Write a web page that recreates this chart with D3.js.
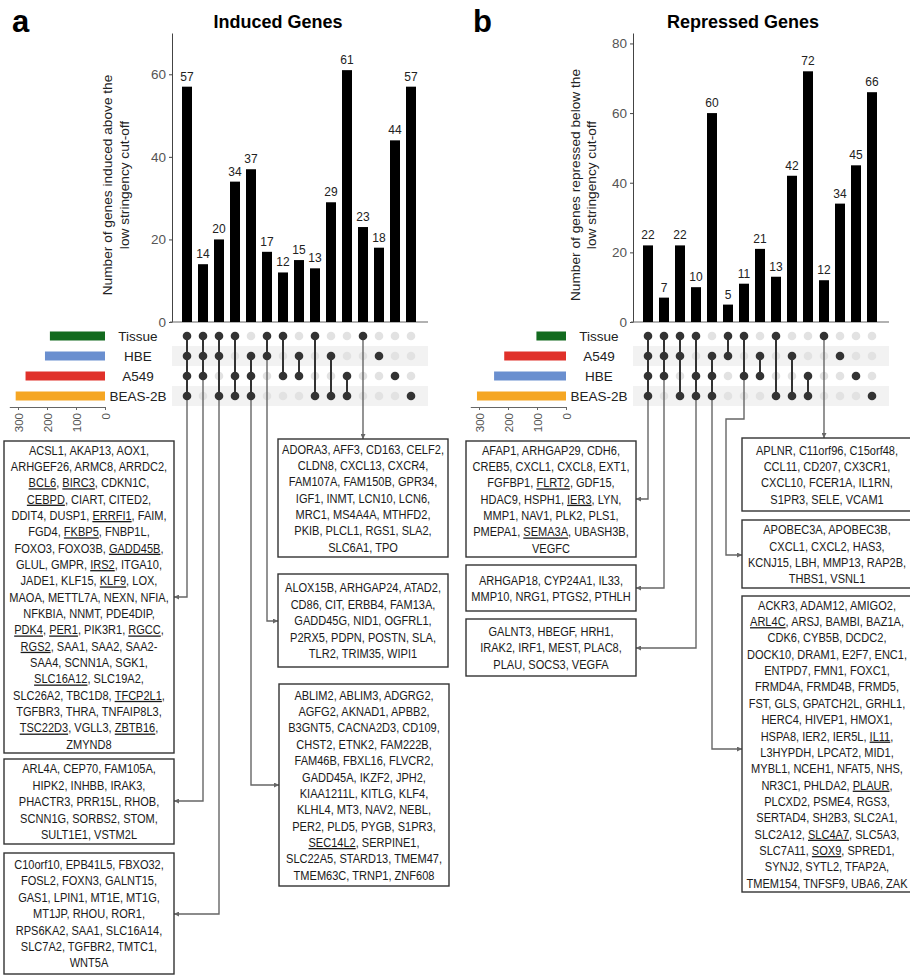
<!DOCTYPE html>
<html>
<head>
<meta charset="utf-8">
<script src="https://cdn.jsdelivr.net/npm/d3@7"></script>
<style>
  body { margin: 0; background: #fff; }
  text { font-family: "Liberation Sans", Arial, sans-serif; }
</style>
</head>
<body>
<svg id="chart"></svg>
<script>
// ---------- data ----------
const setsInduced = ["Tissue", "HBE", "A549", "BEAS-2B"];
const setsRepressed = ["Tissue", "A549", "HBE", "BEAS-2B"];

const combosInduced = [
  ["Tissue", "HBE", "A549", "BEAS-2B"],
  ["Tissue", "HBE", "A549"],
  ["Tissue", "HBE", "BEAS-2B"],
  ["Tissue", "A549", "BEAS-2B"],
  ["HBE", "A549", "BEAS-2B"],
  ["Tissue", "HBE"],
  ["Tissue", "A549"],
  ["HBE", "A549"],
  ["Tissue", "BEAS-2B"],
  ["HBE", "BEAS-2B"],
  ["A549", "BEAS-2B"],
  ["Tissue"], ["HBE"], ["A549"], ["BEAS-2B"]
];
const countsInduced = [57, 14, 20, 34, 37, 17, 12, 15, 13, 29, 61, 23, 18, 44, 57];

const combosRepressed = [
  ["Tissue", "A549", "HBE", "BEAS-2B"],
  ["Tissue", "A549", "HBE"],
  ["Tissue", "A549", "BEAS-2B"],
  ["Tissue", "HBE", "BEAS-2B"],
  ["A549", "HBE", "BEAS-2B"],
  ["Tissue", "A549"],
  ["Tissue", "HBE"],
  ["A549", "HBE"],
  ["Tissue", "BEAS-2B"],
  ["A549", "BEAS-2B"],
  ["HBE", "BEAS-2B"],
  ["Tissue"], ["A549"], ["HBE"], ["BEAS-2B"]
];
const countsRepressed = [22, 7, 22, 10, 60, 5, 11, 21, 13, 42, 72, 12, 34, 45, 66];

const yTicksInduced = [0, 20, 40, 60];
const yTicksRepressed = [0, 20, 40, 60, 80];
const sizeTicks = [0, 100, 200, 300];

// gene lists per intersection (*name* = underlined)
const genesInduced = [
  { combo: 0, lines: [
    "ACSL1, AKAP13, AOX1,", "ARHGEF26, ARMC8, ARRDC2,", "*BCL6*, *BIRC3*, CDKN1C,",
    "*CEBPD*, CIART, CITED2,", "DDIT4, DUSP1, *ERRFI1*, FAIM,", "FGD4, *FKBP5*, FNBP1L,",
    "FOXO3, FOXO3B, *GADD45B*,", "GLUL, GMPR, *IRS2*, ITGA10,", "JADE1, KLF15, *KLF9*, LOX,",
    "MAOA, METTL7A, NEXN, NFIA,", "NFKBIA, NNMT, PDE4DIP,", "*PDK4*, *PER1*, PIK3R1, *RGCC*,",
    "*RGS2*, SAA1, SAA2, SAA2-", "SAA4, SCNN1A, SGK1,", "*SLC16A12*, SLC19A2,",
    "SLC26A2, TBC1D8, *TFCP2L1*,", "TGFBR3, THRA, TNFAIP8L3,", "*TSC22D3*, VGLL3, *ZBTB16*,",
    "ZMYND8"] },
  { combo: 1, lines: [
    "ARL4A, CEP70, FAM105A,", "HIPK2, INHBB, IRAK3,", "PHACTR3, PRR15L, RHOB,",
    "SCNN1G, SORBS2, STOM,", "SULT1E1, VSTM2L"] },
  { combo: 2, lines: [
    "C10orf10, EPB41L5, FBXO32,", "FOSL2, FOXN3, GALNT15,", "GAS1, LPIN1, MT1E, MT1G,",
    "MT1JP, RHOU, ROR1,", "RPS6KA2, SAA1, SLC16A14,", "SLC7A2, TGFBR2, TMTC1,", "WNT5A"] },
  { combo: 11, lines: [
    "ADORA3, AFF3, CD163, CELF2,", "CLDN8, CXCL13, CXCR4,", "FAM107A, FAM150B, GPR34,",
    "IGF1, INMT, LCN10, LCN6,", "MRC1, MS4A4A, MTHFD2,", "PKIB, PLCL1, RGS1, SLA2,",
    "SLC6A1, TPO"] },
  { combo: 5, lines: [
    "ALOX15B, ARHGAP24, ATAD2,", "CD86, CIT, ERBB4, FAM13A,", "GADD45G, NID1, OGFRL1,",
    "P2RX5, PDPN, POSTN, SLA,", "TLR2, TRIM35, WIPI1"] },
  { combo: 4, lines: [
    "ABLIM2, ABLIM3, ADGRG2,", "AGFG2, AKNAD1, APBB2,", "B3GNT5, CACNA2D3, CD109,",
    "CHST2, ETNK2, FAM222B,", "FAM46B, FBXL16, FLVCR2,", "GADD45A, IKZF2, JPH2,",
    "KIAA1211L, KITLG, KLF4,", "KLHL4, MT3, NAV2, NEBL,", "PER2, PLD5, PYGB, S1PR3,",
    "*SEC14L2*, SERPINE1,", "SLC22A5, STARD13, TMEM47,", "TMEM63C, TRNP1, ZNF608"] }
];

const genesRepressed = [
  { combo: 0, lines: [
    "AFAP1, ARHGAP29, CDH6,", "CREB5, CXCL1, CXCL8, EXT1,", "FGFBP1, *FLRT2*, GDF15,",
    "HDAC9, HSPH1, *IER3*, LYN,", "MMP1, NAV1, PLK2, PLS1,", "PMEPA1, *SEMA3A*, UBASH3B,",
    "VEGFC"] },
  { combo: 1, lines: ["ARHGAP18, CYP24A1, IL33,", "MMP10, NRG1, PTGS2, PTHLH"] },
  { combo: 3, lines: ["GALNT3, HBEGF, HRH1,", "IRAK2, IRF1, MEST, PLAC8,", "PLAU, SOCS3, VEGFA"] },
  { combo: 11, lines: [
    "APLNR, C11orf96, C15orf48,", "CCL11, CD207, CX3CR1,", "CXCL10, FCER1A, IL1RN,",
    "S1PR3, SELE, VCAM1"] },
  { combo: 6, lines: [
    "APOBEC3A, APOBEC3B,", "CXCL1, CXCL2, HAS3,", "KCNJ15, LBH, MMP13, RAP2B,",
    "THBS1, VSNL1"] },
  { combo: 4, lines: [
    "ACKR3, ADAM12, AMIGO2,", "*ARL4C*, ARSJ, BAMBI, BAZ1A,", "CDK6, CYB5B, DCDC2,",
    "DOCK10, DRAM1, E2F7, ENC1,", "ENTPD7, FMN1, FOXC1,", "FRMD4A, FRMD4B, FRMD5,",
    "FST, GLS, GPATCH2L, GRHL1,", "HERC4, HIVEP1, HMOX1,", "HSPA8, IER2, IER5L, *IL11*,",
    "L3HYPDH, LPCAT2, MID1,", "MYBL1, NCEH1, NFAT5, NHS,", "NR3C1, PHLDA2, *PLAUR*,",
    "PLCXD2, PSME4, RGS3,", "SERTAD4, SH2B3, SLC2A1,", "SLC2A12, *SLC4A7*, SLC5A3,",
    "SLC7A11, *SOX9*, SPRED1,", "SYNJ2, SYTL2, TFAP2A,", "TMEM154, TNFSF9, UBA6, ZAK"] }
];

const setColors = { "Tissue": "#136b1f", "HBE": "#6a8fcf", "A549": "#e0312a", "BEAS-2B": "#f5a623" };

// ---------- layout (panel-local coordinates) ----------
// "c" = the x of the column the box belongs to
const boxLayoutInduced = [
  { x0: 4, x1: 174, y0: 441, y1: 753, route: [["c", 597], [174, 597]] },
  { x0: 4, x1: 174, y0: 759, y1: 844, route: [["c", 801], [174, 801]] },
  { x0: 4, x1: 174, y0: 853, y1: 974, route: [["c", 914], [174, 914]] },
  { x0: 278, x1: 448, y0: 439, y1: 557, route: [["c", 439]] },
  { x0: 278, x1: 448, y0: 574, y1: 667, route: [["c", 621], [278, 621]] },
  { x0: 279, x1: 449, y0: 684, y1: 886, route: [["c", 785], [279, 785]] }
];
const boxLayoutRepressed = [
  { x0: 5, x1: 175, y0: 441, y1: 557, route: [["c", 499], [175, 499]] },
  { x0: 5, x1: 175, y0: 565, y1: 611, route: [["c", 588], [175, 588]] },
  { x0: 5, x1: 175, y0: 619, y1: 676, route: [["c", 648], [175, 648]] },
  { x0: 281, x1: 451, y0: 438, y1: 511, route: [["c", 438]] },
  { x0: 281, x1: 451, y0: 520, y1: 588, route: [["c", 419], [265, 419], [265, 555], [281, 555]] },
  { x0: 281, x1: 451, y0: 596, y1: 892, route: [["c", 749], [281, 749]] }
];

const panels = [
  { letter: "a", title: "Induced Genes", dx: 0, sets: setsInduced, combos: combosInduced,
    counts: countsInduced, yMax: 70, yTicks: yTicksInduced,
    ylab: ["Number of genes induced above the", "low stringency cut-off"], ylabX: [107, 124],
    genes: genesInduced, boxes: boxLayoutInduced, titleX: 278 },
  { letter: "b", title: "Repressed Genes", dx: 461, sets: setsRepressed, combos: combosRepressed,
    counts: countsRepressed, yMax: 83, yTicks: yTicksRepressed,
    ylab: ["Number of genes repressed below the", "low stringency cut-off"], ylabX: [114, 130],
    genes: genesRepressed, boxes: boxLayoutRepressed, titleX: 282 }
];

const width = 910, height = 976;
const svg = d3.select("#chart").attr("width", width).attr("height", height);

svg.append("defs").append("marker")
  .attr("id", "arrow")
  .attr("viewBox", "0 0 6 6")
  .attr("refX", 6).attr("refY", 3)
  .attr("markerWidth", 5).attr("markerHeight", 5)
  .attr("markerUnits", "userSpaceOnUse")
  .attr("orient", "auto")
  .append("path").attr("d", "M0,0L6,3L0,6Z").attr("fill", "#666");

const dark = "#333", light = "#e2e2e2";

panels.forEach(function(p) {
  const g = svg.append("g").attr("transform", "translate(" + p.dx + ",0)");

  const x = d3.scaleBand().domain(d3.range(p.counts.length)).range([179, 419]);
  const cx = function(i) { return x(i) + x.bandwidth() / 2; };
  const y = d3.scaleLinear().domain([0, p.yMax]).range([322, 33]);
  const row = d3.scalePoint().domain(p.sets).range([336, 396]);
  const sizeScale = d3.scaleLinear().domain([0, 330]).range([105, 9.3]);

  // panel letter and title
  g.append("text").attr("x", 12).attr("y", 32)
    .attr("font-size", 31).attr("font-weight", "bold").text(p.letter);
  g.append("text").attr("x", p.titleX).attr("y", 28).attr("text-anchor", "middle")
    .attr("font-size", 18).attr("font-weight", "bold").text(p.title);

  // y axis
  const yAxis = g.append("g").attr("transform", "translate(172,0)")
    .call(d3.axisLeft(y).tickValues(p.yTicks).tickSize(3).tickSizeOuter(0));
  yAxis.select(".domain").attr("stroke", "#444");
  yAxis.selectAll(".tick line").attr("stroke", "#444");
  yAxis.selectAll("text").attr("font-size", 13.5).attr("fill", "#555")
    .style("font-family", "Liberation Sans, Arial, sans-serif");

  g.append("line").attr("x1", 170).attr("x2", 428).attr("y1", 322).attr("y2", 322)
    .attr("stroke", "#666").attr("stroke-width", 1.2);

  p.ylab.forEach(function(t, k) {
    g.append("text")
      .attr("transform", "translate(" + p.ylabX[k] + ",185) rotate(-90)")
      .attr("text-anchor", "middle").attr("dy", "0.35em")
      .attr("font-size", 13.7).attr("fill", "#222").text(t);
  });

  // bars
  g.selectAll("rect.bar").data(p.counts).enter().append("rect")
    .attr("class", "bar")
    .attr("x", function(d, i) { return cx(i) - 5; })
    .attr("y", function(d) { return y(d); })
    .attr("width", 10)
    .attr("height", function(d) { return y(0) - y(d); })
    .attr("fill", "#000");

  g.selectAll("text.val").data(p.counts).enter().append("text")
    .attr("class", "val")
    .attr("x", function(d, i) { return cx(i); })
    .attr("y", function(d) { return y(d) - 6; })
    .attr("text-anchor", "middle").attr("font-size", 12).attr("fill", "#222")
    .text(function(d) { return d; });

  // matrix shading
  p.sets.forEach(function(s, k) {
    if (k % 2 === 1) {
      g.append("rect").attr("x", 172).attr("width", 256)
        .attr("y", row(s) - 10).attr("height", 20).attr("fill", "#f2f2f2");
    }
  });

  // light dots
  p.combos.forEach(function(c, i) {
    p.sets.forEach(function(s) {
      if (c.indexOf(s) < 0) {
        g.append("circle").attr("cx", cx(i)).attr("cy", row(s)).attr("r", 4.3).attr("fill", light);
      }
    });
  });

  // connectors
  p.combos.forEach(function(c, i) {
    const ys = c.map(function(s) { return row(s); });
    g.append("line").attr("x1", cx(i)).attr("x2", cx(i))
      .attr("y1", d3.min(ys)).attr("y2", d3.max(ys))
      .attr("stroke", dark).attr("stroke-width", 2);
  });

  // gene boxes and their leader lines
  const line = d3.line();
  p.genes.forEach(function(gl, b) {
    const L = p.boxes[b];
    const colX = cx(gl.combo);
    const startY = d3.max(p.combos[gl.combo], function(s) { return row(s); });
    const pts = [[colX, startY]].concat(L.route.map(function(q) {
      return [q[0] === "c" ? colX : q[0], q[1]];
    }));
    g.append("path").attr("d", line(pts)).attr("fill", "none")
      .attr("stroke", "#666").attr("stroke-width", 1.4)
      .attr("marker-end", "url(#arrow)");

    g.append("rect").attr("x", L.x0).attr("y", L.y0)
      .attr("width", L.x1 - L.x0).attr("height", L.y1 - L.y0)
      .attr("fill", "#fff").attr("stroke", "#333").attr("stroke-width", 1.4);

    const lh = 16.35;
    const top = L.y0 + (L.y1 - L.y0 - gl.lines.length * lh) / 2;
    const mid = (L.x0 + L.x1) / 2;
    gl.lines.forEach(function(str, k) {
      const t = g.append("text")
        .attr("transform", "translate(" + mid + "," + (top + (k + 0.5) * lh) + ") scale(0.85,1)")
        .attr("text-anchor", "middle").attr("dy", "0.36em")
        .attr("font-size", 13).attr("fill", "#1a1a1a");
      str.split("*").forEach(function(part, j) {
        if (!part) return;
        const ts = t.append("tspan").text(part);
        if (j % 2 === 1) ts.style("text-decoration", "underline");
      });
    });
  });

  // dark dots
  p.combos.forEach(function(c, i) {
    c.forEach(function(s) {
      g.append("circle").attr("cx", cx(i)).attr("cy", row(s)).attr("r", 4.3).attr("fill", dark);
    });
  });

  // set sizes
  const sizes = p.sets.map(function(s) {
    return d3.sum(p.combos, function(c, i) { return c.indexOf(s) >= 0 ? p.counts[i] : 0; });
  });
  g.selectAll("rect.size").data(p.sets).enter().append("rect")
    .attr("class", "size")
    .attr("x", function(s, k) { return sizeScale(sizes[k]); })
    .attr("y", function(s) { return row(s) - 4.5; })
    .attr("width", function(s, k) { return sizeScale(0) - sizeScale(sizes[k]); })
    .attr("height", 9)
    .attr("fill", function(s) { return setColors[s]; });

  g.selectAll("text.setlab").data(p.sets).enter().append("text")
    .attr("class", "setlab")
    .attr("x", 138).attr("y", function(s) { return row(s); })
    .attr("dy", "0.36em").attr("text-anchor", "middle")
    .attr("font-size", 13.5).attr("fill", "#222")
    .text(function(s) { return s; });

  const sAxis = g.append("g").attr("transform", "translate(0,407)")
    .call(d3.axisBottom(sizeScale).tickValues(sizeTicks).tickSize(3).tickSizeOuter(0));
  sAxis.select(".domain").attr("stroke", "#666");
  sAxis.selectAll(".tick line").attr("stroke", "#666");
  sAxis.selectAll("text")
    .attr("transform", "rotate(-90)")
    .attr("x", -6).attr("y", 0).attr("dy", "0.35em")
    .style("text-anchor", "end")
    .attr("font-size", 11.5).attr("fill", "#555")
    .style("font-family", "Liberation Sans, Arial, sans-serif");
});
</script>
</body>
</html>
